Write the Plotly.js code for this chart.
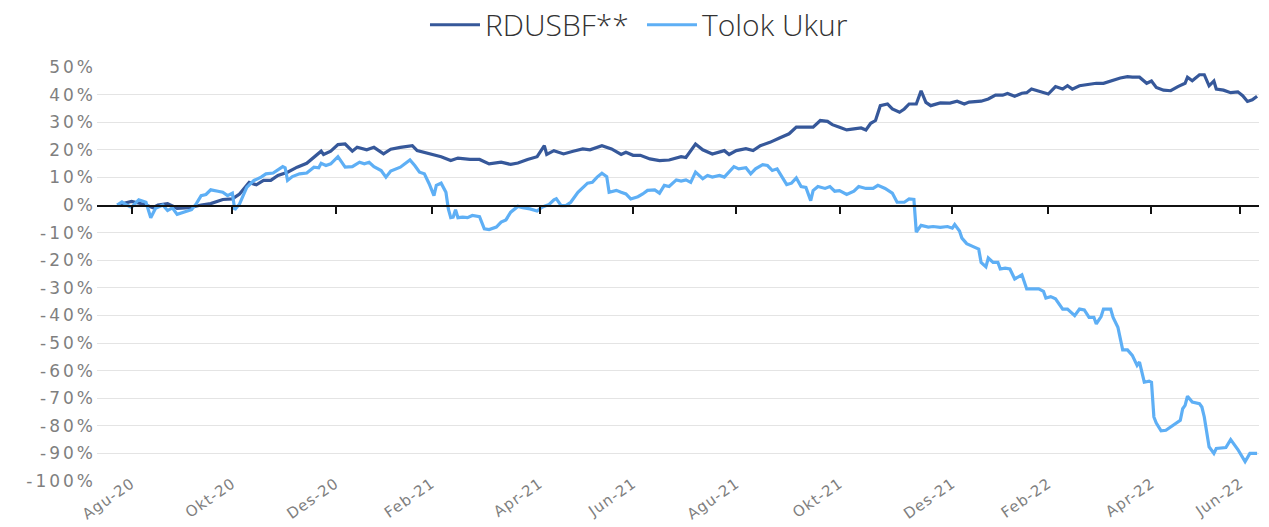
<!DOCTYPE html>
<html>
<head>
<meta charset="utf-8">
<script src="https://cdn.plot.ly/plotly-3.0.1.min.js"></script>
<style>
  html, body { margin: 0; padding: 0; background: #ffffff; }
  #chart { width: 1269px; height: 527px; }
  #chart .ytick text { letter-spacing: 3px; }
  #chart .xtick text { letter-spacing: 1px; }
</style>
</head>
<body>
<div id="chart"></div>
<script>
// Trading-day index (0 = first day of the series) and cumulative return in %
const seriesNames = ["RDUSBF**", "Tolok Ukur"];

const rdusbfDay = [0,6,11,15,17,21,25,30,35,39,44,48,51,55,58,61,64,67,71,75,79,82,85,86,89,92,95,98,100,104,107,111,114,118,123,125,126,130,135,139,142,147,151,155,160,164,167,171,175,178,179,182,186,190,194,197,202,206,210,212,215,218,222,226,230,235,237,241,244,248,253,255,258,262,265,268,272,276,280,283,285,287,290,293,296,298,301,304,307,310,312,314,316,318,321,323,326,328,330,333,335,337,339,343,347,350,353,355,360,363,366,369,371,374,377,379,381,385,388,391,394,396,398,401,405,408,411,414,418,421,423,426,429,431,433,436,439,442,445,446,448,451,453,455,457,458,461,464,467,469,471,473,475];
const rdusbfReturn = [0,1.3,0.3,-1,0,0.5,-1.2,-1,0,0.5,2,2.2,4,8.2,7.3,8.9,8.9,10.7,11.9,13.7,15.1,17.3,19.5,18.3,19.5,21.9,22.1,19.5,20.9,20,20.9,18.5,20.2,20.9,21.5,19.7,19.5,18.7,17.5,16.1,17,16.5,16.5,14.9,15.5,14.7,15.2,16.5,17.5,21.5,18.3,19.7,18.5,19.5,20.3,20,21.5,20.3,18.3,19.1,18,18,16.7,16.1,16.3,17.5,17.2,22.1,20,18.5,19.7,18.3,19.7,20.4,19.7,21.5,22.7,24.3,25.8,28.2,28.3,28.2,28.2,30.6,30.3,29.1,28.2,27.2,27.6,27.9,27.2,29.6,30.6,36,36.6,34.8,33.6,34.8,36.6,36.6,41.4,37.2,36,37,36.9,37.6,36.6,37.3,37.6,38.4,39.8,39.8,40.4,39.4,40.5,40.7,42,41,40.2,42.9,42,43.2,42,43.2,43.8,44.1,44.1,45,46,46.5,46.3,46.3,44.1,44.9,42.6,41.6,41.4,42.9,44.1,46.3,45,47.2,47.2,43.2,44.9,42,41.6,40.7,41,39.6,37.5,38.1,39.4];

const tolokDay = [0,2,4,6,9,12,14,16,19,21,23,25,28,31,33,35,37,39,42,44,46,48,49,51,54,57,60,62,65,69,70,71,73,76,79,82,84,85,87,89,92,95,98,101,103,105,107,110,112,114,118,122,124,126,128,130,132,133,135,137,138,139,140,141,142,144,146,148,151,153,155,158,160,162,164,167,169,172,175,177,180,182,183,185,187,189,192,194,196,198,200,202,204,205,208,210,212,214,217,219,221,224,226,228,230,233,235,237,239,241,244,246,248,251,253,257,259,262,264,266,269,271,273,275,277,279,281,283,285,287,289,290,292,295,297,299,301,304,307,309,312,315,317,320,323,325,328,330,332,333,335,338,340,343,346,348,349,351,352,354,356,359,360,362,363,365,367,368,370,372,374,376,377,379,381,384,386,387,389,391,394,396,399,401,403,405,407,408,410,411,414,415,417,419,421,423,425,426,428,430,431,432,433,435,437,440,443,444,445,446,448,451,452,453,455,457,458,462,464,467,470,472,475];
const tolokReturn = [0,1.1,0,-0.8,1.9,1.0,-4.6,-1.2,0,-2,-1,-3.4,-2.5,-1.7,0.5,3.4,3.8,5.5,5,4.6,3.4,4.3,-1.7,0.4,6.4,8.9,10.1,11.3,11.6,13.9,13.5,8.9,10.3,11.3,11.6,13.7,13.5,15.1,14.3,14.9,17.5,13.7,13.9,15.5,14.9,15.5,13.9,12.5,10.1,12.3,13.7,16.3,14.3,11.9,11.3,7.7,3.4,7.1,7.9,4.6,-1.4,-4.6,-4.4,-1.7,-4.6,-4.4,-4.6,-3.8,-4.2,-8.6,-8.9,-8,-6.2,-5.4,-2.6,-0.5,-1,-1.4,-2.2,-0.8,0.2,1.9,2.3,-0.2,-0.2,1,4.6,6.4,7.9,8.2,10.1,11.5,10.3,4.6,5.3,4.6,4.0,2.2,3.0,4.0,5.3,5.5,4.3,7.1,6.7,9.1,8.7,9.1,8.2,11.9,9.5,10.7,10.1,10.7,10.1,13.9,13.1,13.5,11.3,13.1,14.6,14.3,12.5,13.1,10.1,7.4,7.9,9.8,6.7,6.4,1.6,5.2,6.7,6.0,6.7,5,5.2,3.8,5,6.7,6,6,7.1,6.0,4.3,1,1,2.2,2.0,-9.8,-7.4,-8,-7.8,-8.1,-7.8,-8.4,-7.1,-9.4,-12,-14,-14.8,-16,-20.8,-22.4,-19.2,-20.8,-20.8,-23.2,-22.9,-23.2,-26.8,-26,-25.3,-30.4,-30.4,-30.4,-31.3,-33.7,-33.2,-34,-37.7,-37.7,-40.1,-37.7,-38,-40.7,-40.7,-43.1,-40.4,-37.7,-37.7,-40.7,-44.3,-52.5,-52.5,-54.5,-58.1,-56.9,-64.2,-63.8,-64.2,-76.8,-79,-81.8,-81.6,-79.8,-78,-73.8,-72.6,-69.3,-71.4,-72,-73.2,-76.8,-87.6,-90,-88.2,-87.9,-85,-88.6,-93,-90,-90];

// Month ticks (trading-day index of the first trading day of each labelled month)
const monthTickDay = [6,48,91,131,176,215,258,301,348,388,431,468];
const monthTickLabel = ["Agu-20","Okt-20","Des-20","Feb-21","Apr-21","Jun-21","Agu-21","Okt-21","Des-21","Feb-22","Apr-22","Jun-22"];

const yTickValues = [50,40,30,20,10,0,-10,-20,-30,-40,-50,-60,-70,-80,-90,-100];

const colDark = "#36589a";
const colLight = "#5eaff5";
const greyText = "#7f7f7f";
const xRange = [-8.4, 475.8];
const yRange = [-100, 50];

const traces = [
  { x: rdusbfDay, y: rdusbfReturn, name: seriesNames[0], type: "scatter", mode: "lines",
    line: { color: colDark, width: 3.2 }, xaxis: "x", yaxis: "y" },
  { x: tolokDay, y: tolokReturn, name: seriesNames[1], type: "scatter", mode: "lines",
    line: { color: colLight, width: 3.2 }, xaxis: "x", yaxis: "y" },
  { x: [], y: [], xaxis: "x2", yaxis: "y", showlegend: false, hoverinfo: "skip", type: "scatter", mode: "lines" }
];

const layout = {
  width: 1269, height: 527,
  margin: { l: 97, r: 10, t: 67, b: 46 },
  paper_bgcolor: "#ffffff", plot_bgcolor: "#ffffff",
  showlegend: true,
  legend: {
    orientation: "h", xref: "container", yref: "container",
    x: 0.3349, xanchor: "left", y: 0.953, yanchor: "middle",
    font: { family: "Open Sans", size: 30, color: "#333333", weight: 300 },
    itemwidth: 50, entrywidth: 152, entrywidthmode: "pixels", tracegroupgap: 0
  },
  xaxis: {
    range: xRange, tickvals: monthTickDay, ticktext: monthTickLabel,
    anchor: "free", position: 0.024,
    tickangle: -35, showgrid: false, zeroline: false, showline: false, ticks: "",
    tickfont: { family: "DejaVu Sans", size: 15, color: greyText },
    fixedrange: true
  },
  xaxis2: {
    overlaying: "x", anchor: "free", position: (0 - yRange[0]) / (yRange[1] - yRange[0]),
    range: xRange, tickvals: monthTickDay, showticklabels: false,
    showgrid: false, zeroline: false, showline: true, linecolor: "#111111", linewidth: 1.5,
    ticks: "outside", ticklen: 7, tickwidth: 2, tickcolor: "#111111"
  },
  yaxis: {
    range: yRange, tickvals: yTickValues, ticktext: yTickValues.map(v => v + "%"),
    showgrid: true, gridcolor: "#e4e4e4", gridwidth: 1,
    zeroline: false, showline: false, ticks: "",
    tickfont: { family: "DejaVu Sans", size: 17, color: greyText },
    fixedrange: true
  }
};

Plotly.newPlot("chart", traces, layout, { displayModeBar: false, staticPlot: true });
</script>
</body>
</html>
